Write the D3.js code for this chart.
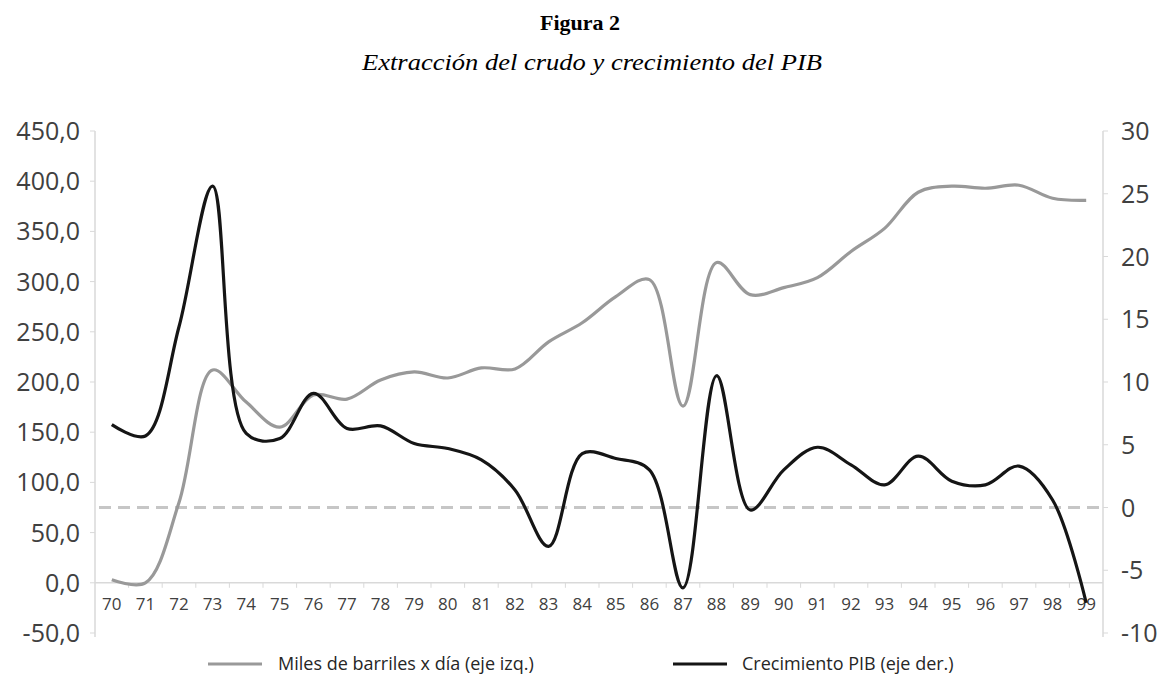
<!DOCTYPE html>
<html><head><meta charset="utf-8">
<script src="https://cdn.jsdelivr.net/npm/d3@7"></script>
<style>body{margin:0;background:#fff}svg{display:block}</style>
</head><body>
<svg id="c" width="1159" height="691"></svg>
<script>
const years = ["70","71","72","73","74","75","76","77","78","79","80","81","82","83","84","85","86","87","88","89","90","91","92","93","94","95","96","97","98","99"];
const oil = [3,0,80,212,180,155,187,183,202,210,204,214,213,240,259,285,302,176,319,287,294,304,330,353,389,395,393,396,383,381];
const gdp = [6.6,5.7,14.4,25.6,5.9,5.5,9.1,6.3,6.5,5.1,4.7,3.8,1.4,-3.1,4.3,3.9,3.0,-6.4,10.5,-0.2,3.0,4.8,3.4,1.8,4.1,2.1,1.8,3.3,0.6,-7.6];
const leftTicks = [450,400,350,300,250,200,150,100,50,0,-50];
const rightTicks = [30,25,20,15,10,5,0,-5,-10];
const seriesNames = ["Miles de barriles x día (eje izq.)","Crecimiento PIB (eje der.)"];

const svg = d3.select("#c");
const L = 95, R = 1103, T = 131, B = 633;
const x = d3.scaleBand().domain(years).range([L, R]);
const yL = d3.scaleLinear().domain([-50,450]).range([B, T]);
const yR = d3.scaleLinear().domain([-10,30]).range([B, T]);
const axisCol = "#d9d9d9", txtCol = "#404040";
const font = "'Open Sans', sans-serif";

svg.append("text").attr("x",580).attr("y",30).attr("text-anchor","middle")
  .attr("font-family","'Liberation Serif', serif").attr("font-weight","bold").attr("font-size",22).text("Figura 2");
svg.append("text").attr("x",362).attr("y",70)
  .attr("font-family","'Liberation Serif', serif").attr("font-style","italic").attr("font-size",24)
  .attr("textLength",460).attr("lengthAdjust","spacingAndGlyphs").text("Extracción del crudo y crecimiento del PIB");

// axes lines
const g = svg.append("g");
g.append("line").attr("x1",L).attr("x2",L).attr("y1",T).attr("y2",B+4).attr("stroke",axisCol).attr("stroke-width",1.5);
g.append("line").attr("x1",R).attr("x2",R).attr("y1",T).attr("y2",B+4).attr("stroke",axisCol).attr("stroke-width",1.5);
g.append("line").attr("x1",L).attr("x2",R).attr("y1",yL(0)).attr("y2",yL(0)).attr("stroke",axisCol).attr("stroke-width",1.5);

leftTicks.forEach(v=>{
  g.append("line").attr("x1",L-5).attr("x2",L).attr("y1",yL(v)).attr("y2",yL(v)).attr("stroke",axisCol);
  g.append("text").attr("x",80).attr("y",yL(v)).attr("dy","0.36em").attr("text-anchor","end")
   .attr("font-family",font).attr("font-size",25).attr("fill",txtCol).text(v.toFixed(1).replace(".",","));
});
rightTicks.forEach(v=>{
  g.append("line").attr("x1",R).attr("x2",R+5).attr("y1",yR(v)).attr("y2",yR(v)).attr("stroke",axisCol);
  g.append("text").attr("x",1121).attr("y",yR(v)).attr("dy","0.36em").attr("text-anchor","start")
   .attr("font-family",font).attr("font-size",25).attr("fill",txtCol).text(String(v));
});
years.forEach((yv,i)=>{
  const bx = x(yv);
  if(i>0) g.append("line").attr("x1",bx).attr("x2",bx).attr("y1",yL(0)).attr("y2",yL(0)+5).attr("stroke",axisCol);
  g.append("text").attr("x",bx + x.bandwidth()/2).attr("y",yL(0)+27).attr("text-anchor","middle")
   .attr("font-family",font).attr("font-size",17).attr("fill",txtCol).text(yv);
});

// zero dashed line (right axis)
svg.append("line").attr("x1",L+4).attr("x2",R).attr("y1",yR(0)).attr("y2",yR(0))
  .attr("stroke","#c6c6c6").attr("stroke-width",3).attr("stroke-dasharray","12,7");

const cx = d => x(d) + x.bandwidth()/2;
const lineOil = d3.line().x((d,i)=>cx(years[i])).y(d=>yL(d)).curve(d3.curveCatmullRom.alpha(0.5));
const lineGdp = d3.line().x((d,i)=>cx(years[i])).y(d=>yR(d)).curve(d3.curveCatmullRom.alpha(0.5));
svg.append("path").attr("d",lineOil(oil)).attr("fill","none").attr("stroke","#999999").attr("stroke-width",3.2);
svg.append("path").attr("d",lineGdp(gdp)).attr("fill","none").attr("stroke","#151515").attr("stroke-width",3.2);

// legend
const leg = [{x1:208,x2:262,tx:278,c:"#999999",t:seriesNames[0]},{x1:673,x2:727,tx:742,c:"#151515",t:seriesNames[1]}];
leg.forEach(l=>{
  svg.append("line").attr("x1",l.x1).attr("x2",l.x2).attr("y1",664).attr("y2",664).attr("stroke",l.c).attr("stroke-width",3);
  svg.append("text").attr("x",l.tx).attr("y",664).attr("dy","0.36em").attr("font-family",font).attr("font-size",18)
   .attr("fill","#262626").text(l.t);
});
</script>
</body></html>
